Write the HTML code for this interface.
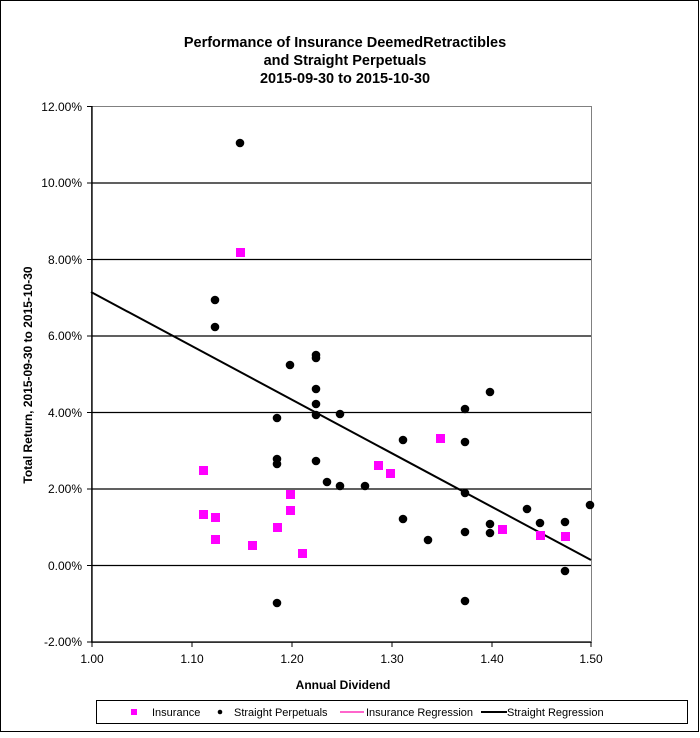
<!DOCTYPE html><html><head><style>body{margin:0;background:#fff}text{font-family:"Liberation Sans",Arial,sans-serif}</style></head><body>
<svg width="700" height="733" xmlns="http://www.w3.org/2000/svg">
<rect x="0.5" y="0.5" width="698" height="731" fill="#fff" stroke="#000"/>
<text x="345" y="47" font-size="14.5" font-weight="bold" text-anchor="middle">Performance of Insurance DeemedRetractibles</text>
<text x="345" y="65" font-size="14.5" font-weight="bold" text-anchor="middle">and Straight Perpetuals</text>
<text x="345" y="83" font-size="14.5" font-weight="bold" text-anchor="middle">2015-09-30 to 2015-10-30</text>
<rect x="91.5" y="106.5" width="500" height="536" fill="#fff" stroke="#808080"/>
<g stroke="#000" stroke-width="1.3">
<line x1="92" y1="183" x2="591" y2="183"/><line x1="92" y1="259.5" x2="591" y2="259.5"/><line x1="92" y1="336" x2="591" y2="336"/><line x1="92" y1="412.5" x2="591" y2="412.5"/><line x1="92" y1="489" x2="591" y2="489"/><line x1="92" y1="565.5" x2="591" y2="565.5"/>
<line x1="92" y1="106" x2="92" y2="642"/><line x1="92" y1="642" x2="591" y2="642"/>
</g>
<g stroke="#000">
<line x1="87" y1="106.5" x2="92" y2="106.5"/><line x1="87" y1="183" x2="92" y2="183"/><line x1="87" y1="259.5" x2="92" y2="259.5"/><line x1="87" y1="336" x2="92" y2="336"/><line x1="87" y1="412.5" x2="92" y2="412.5"/><line x1="87" y1="489" x2="92" y2="489"/><line x1="87" y1="565.5" x2="92" y2="565.5"/><line x1="87" y1="642" x2="92" y2="642"/>
<line x1="92" y1="642" x2="92" y2="647"/><line x1="192" y1="642" x2="192" y2="647"/><line x1="292" y1="642" x2="292" y2="647"/><line x1="392" y1="642" x2="392" y2="647"/><line x1="492" y1="642" x2="492" y2="647"/><line x1="591" y1="642" x2="591" y2="647"/>
</g>
<g font-size="12" text-anchor="end">
<text x="82" y="111">12.00%</text><text x="82" y="187">10.00%</text><text x="82" y="264">8.00%</text><text x="82" y="340">6.00%</text><text x="82" y="417">4.00%</text><text x="82" y="493">2.00%</text><text x="82" y="570">0.00%</text><text x="82" y="646">-2.00%</text>
</g>
<g font-size="12" text-anchor="middle">
<text x="92" y="663">1.00</text><text x="192" y="663">1.10</text><text x="292" y="663">1.20</text><text x="392" y="663">1.30</text><text x="492" y="663">1.40</text><text x="591" y="663">1.50</text>
</g>
<text x="343" y="689" font-size="12" font-weight="bold" text-anchor="middle">Annual Dividend</text>
<text transform="translate(32,375) rotate(-90)" font-size="12" font-weight="bold" text-anchor="middle">Total Return, 2015-09-30  to 2015-10-30</text>
<line x1="91" y1="292" x2="591" y2="560" stroke="#000" stroke-width="2"/>
<g fill="#000">
<circle cx="240" cy="143" r="4.3"/><circle cx="215" cy="300" r="4.3"/><circle cx="215" cy="327" r="4.3"/><circle cx="316" cy="355" r="4.3"/><circle cx="316" cy="358" r="4.3"/><circle cx="290" cy="365" r="4.3"/><circle cx="316" cy="389" r="4.3"/><circle cx="277" cy="418" r="4.3"/><circle cx="316" cy="404" r="4.3"/><circle cx="340" cy="414" r="4.3"/><circle cx="316" cy="415" r="4.3"/><circle cx="277" cy="459" r="4.3"/><circle cx="277" cy="464" r="4.3"/><circle cx="316" cy="461" r="4.3"/><circle cx="327" cy="482" r="4.3"/><circle cx="340" cy="486" r="4.3"/><circle cx="365" cy="486" r="4.3"/><circle cx="403" cy="440" r="4.3"/><circle cx="465" cy="409" r="4.3"/><circle cx="465" cy="442" r="4.3"/><circle cx="490" cy="392" r="4.3"/><circle cx="465" cy="493" r="4.3"/><circle cx="403" cy="519" r="4.3"/><circle cx="428" cy="540" r="4.3"/><circle cx="465" cy="532" r="4.3"/><circle cx="490" cy="524" r="4.3"/><circle cx="490" cy="533" r="4.3"/><circle cx="527" cy="509" r="4.3"/><circle cx="540" cy="523" r="4.3"/><circle cx="565" cy="522" r="4.3"/><circle cx="590" cy="505" r="4.3"/><circle cx="565" cy="571" r="4.3"/><circle cx="277" cy="603" r="4.3"/><circle cx="465" cy="601" r="4.3"/>
</g>
<g fill="#ff00ff">
<rect x="236" y="248" width="9" height="9"/><rect x="199" y="466" width="9" height="9"/><rect x="199" y="510" width="9" height="9"/><rect x="211" y="513" width="9" height="9"/><rect x="211" y="535" width="9" height="9"/><rect x="248" y="541" width="9" height="9"/><rect x="273" y="523" width="9" height="9"/><rect x="286" y="490" width="9" height="9"/><rect x="286" y="506" width="9" height="9"/><rect x="298" y="549" width="9" height="9"/><rect x="374" y="461" width="9" height="9"/><rect x="386" y="469" width="9" height="9"/><rect x="436" y="434" width="9" height="9"/><rect x="498" y="525" width="9" height="9"/><rect x="536" y="531" width="9" height="9"/><rect x="561" y="532" width="9" height="9"/>
</g>
<rect x="96.5" y="700.5" width="591" height="23" fill="#fff" stroke="#000"/>
<g font-size="11">
<rect x="131" y="709" width="6" height="6" fill="#ff00ff"/><text x="152" y="716">Insurance</text>
<circle cx="220" cy="712" r="2.3"/><text x="234" y="716">Straight Perpetuals</text>
<line x1="340" y1="712" x2="364" y2="712" stroke="#ff66cc" stroke-width="2"/><text x="366" y="716">Insurance Regression</text>
<line x1="481" y1="712" x2="507" y2="712" stroke="#000" stroke-width="2"/><text x="507" y="716">Straight Regression</text>
</g>
</svg></body></html>
